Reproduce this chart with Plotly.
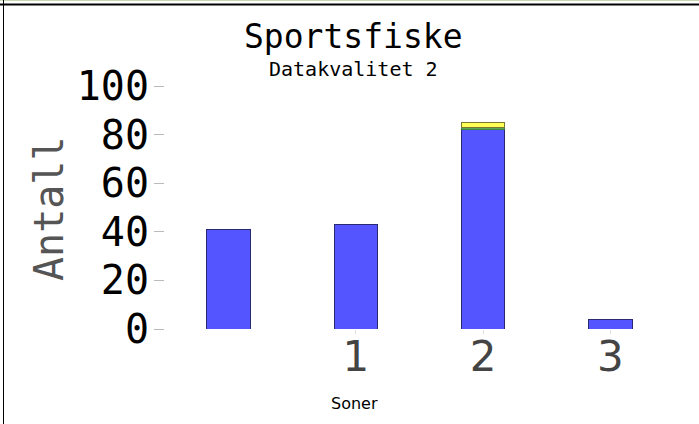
import plotly.graph_objects as go

zones = [0, 1, 2, 3]
tick_vals = [1, 2, 3]
tick_text = ["1", "2", "3"]
blue_vals = [41, 43, 82, 4]
green_vals = [None, None, 1, None]
yellow_vals = [None, None, 2, None]
y_ticks = [0, 20, 40, 60, 80, 100]

W, H = 699, 424
L, R, T, B = 165, 25, 86, 95

fig = go.Figure()
fig.add_bar(x=zones, y=blue_vals, marker=dict(color="#5555FF", line=dict(color="#2a2a70", width=1)), width=0.34)
fig.add_bar(x=zones, y=green_vals, marker=dict(color="#55AA55", line=dict(color="#335533", width=0.5)), width=0.34)
fig.add_bar(x=zones, y=yellow_vals, marker=dict(color="#FFFF55", line=dict(color="#777733", width=1)), width=0.34)

def px_x(p):
    return (p - L) / (W - L - R)

def px_y(p):
    return (H - B - p) / (H - T - B)

mono = "DejaVu Sans Mono"
ann = dict(xref="paper", yref="paper", showarrow=False, xanchor="center", yanchor="middle")
fig.update_layout(
    width=W, height=H, barmode="stack", showlegend=False,
    margin=dict(l=L, r=R, t=T, b=B),
    paper_bgcolor="white", plot_bgcolor="white",
    xaxis=dict(range=[-0.5, 3.5], tickvals=tick_vals, ticktext=tick_text,
               tickfont=dict(family="DejaVu Sans", size=42, color="#444444"),
               ticks="outside", ticklen=4, tickcolor="#dddddd", ticklabelstandoff=-13,
               showgrid=False, zeroline=False, showline=False),
    yaxis=dict(range=[0, 100], tickvals=y_ticks,
               tickfont=dict(family=mono, size=40, color="black"),
               ticks="outside", ticklen=10, tickcolor="#bbbbbb", ticklabelstandoff=-3,
               showgrid=False, zeroline=False, showline=False),
    annotations=[
        dict(ann, text="Sportsfiske", x=px_x(353), y=px_y(36),
             font=dict(family=mono, size=33, color="black")),
        dict(ann, text="Datakvalitet 2", x=px_x(353), y=px_y(69),
             font=dict(family=mono, size=20, color="black")),
        dict(ann, text="Soner", x=px_x(354), y=px_y(403),
             font=dict(family="DejaVu Sans", size=16, color="black")),
        dict(ann, text="Antall", x=px_x(49), y=px_y(209), textangle=-90,
             font=dict(family=mono, size=40, color="#555555")),
    ],
    shapes=[
        dict(type="line", xref="paper", yref="paper", x0=px_x(0), x1=px_x(W), y0=px_y(4.5), y1=px_y(4.5),
             line=dict(color="black", width=2)),
        dict(type="line", xref="paper", yref="paper", x0=px_x(0), x1=px_x(W), y0=px_y(0.5), y1=px_y(0.5),
             line=dict(color="#c8d8b0", width=1)),
        dict(type="line", xref="paper", yref="paper", x0=px_x(3.5), x1=px_x(3.5), y0=px_y(0), y1=px_y(H),
             line=dict(color="black", width=1)),
    ],
)

fig.write_html("out.html", config={"displayModeBar": False},
               post_script="document.body.style.margin='0';")
